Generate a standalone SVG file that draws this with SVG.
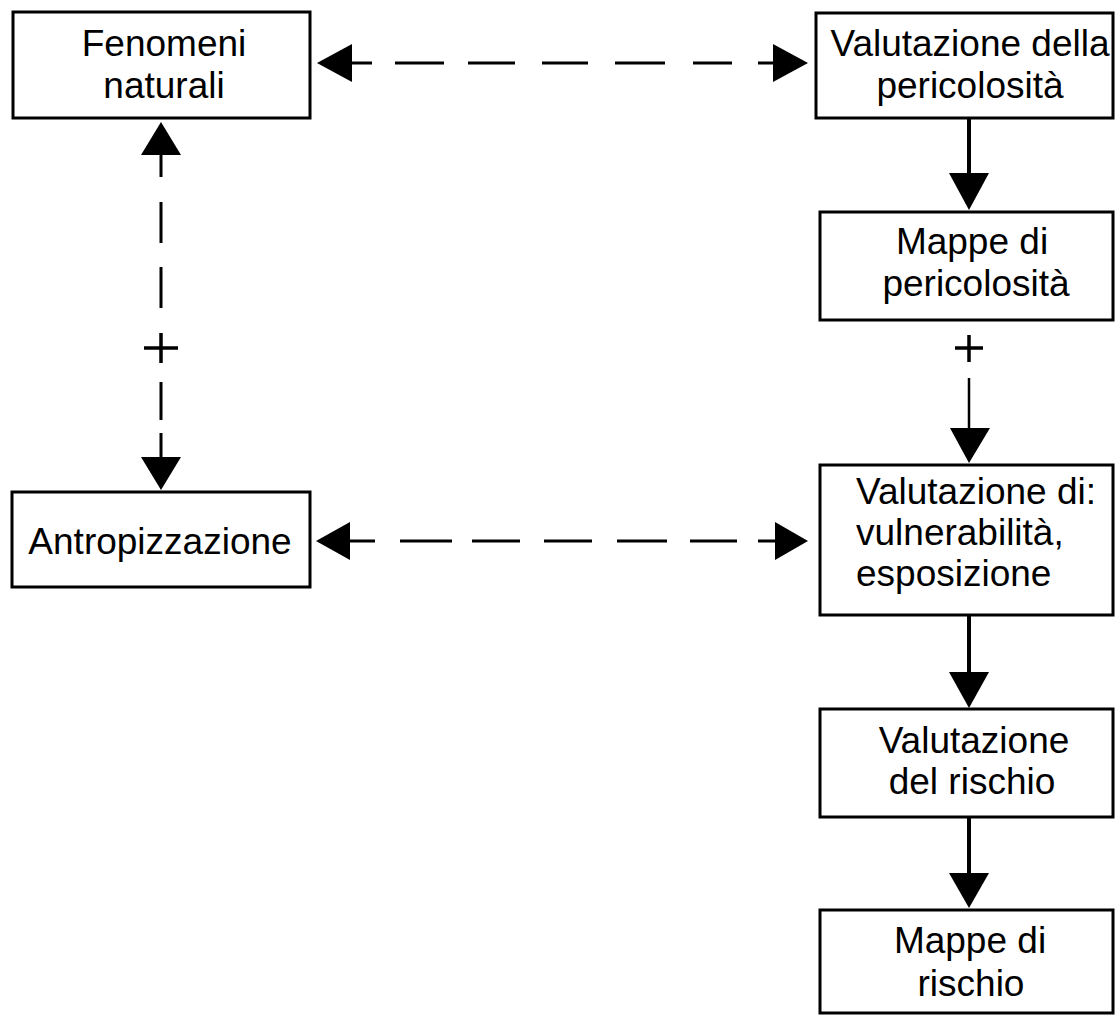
<svg xmlns="http://www.w3.org/2000/svg" width="1115" height="1015" viewBox="0 0 1115 1015">
<style>
.box{fill:#fff;stroke:#000;stroke-width:3}
.t{font-family:"Liberation Sans",Arial,sans-serif;font-size:37px;fill:#000;text-anchor:middle}
.tl{font-family:"Liberation Sans",Arial,sans-serif;font-size:37px;fill:#000;text-anchor:start}
.dash{stroke:#000;stroke-width:3;fill:none}
.plus{stroke:#000;stroke-width:3.5;fill:none}
.solid{stroke:#000;stroke-width:4;fill:none}
.thin{stroke:#000;stroke-width:2.5;fill:none}
.head{fill:#000;stroke:none}
</style>
<rect width="1115" height="1015" fill="#fff"/>
<g id="n-fenomeni">
<rect class="box" x="13" y="12" width="297" height="106"/>
<text class="t" x="164" y="56">Fenomeni</text>
<text class="t" x="164" y="98">naturali</text>
</g>
<g id="n-valpericolosita">
<rect class="box" x="816" y="13" width="297" height="105"/>
<text class="t" x="970" y="56">Valutazione della</text>
<text class="t" x="970" y="98">pericolosità</text>
</g>
<g id="n-mappeperic">
<rect class="box" x="820" y="212" width="293" height="108"/>
<text class="t" x="972" y="254">Mappe di</text>
<text class="t" x="976" y="296">pericolosità</text>
</g>
<g id="n-antropizzazione">
<rect class="box" x="12" y="492" width="298" height="95"/>
<text class="t" x="160" y="554">Antropizzazione</text>
</g>
<g id="n-valvuln">
<rect class="box" x="820" y="465" width="293" height="150"/>
<text class="tl" x="856" y="504">Valutazione di:</text>
<text class="tl" x="856" y="545">vulnerabilità,</text>
<text class="tl" x="856" y="586">esposizione</text>
</g>
<g id="n-valrischio">
<rect class="box" x="820" y="709" width="293" height="108"/>
<text class="t" x="974" y="753">Valutazione</text>
<text class="t" x="972" y="794">del rischio</text>
</g>
<g id="n-mapperischio">
<rect class="box" x="820" y="910" width="293" height="103"/>
<text class="t" x="970" y="953">Mappe di</text>
<text class="t" x="971" y="996">rischio</text>
</g>
<g id="connectors">
<path class="dash" d="M352 63H372M395 63H444M468 63H515M542 63H588M615 63H665M693 63H732M758 63H773"/>
<polygon class="head" points="317,63 352,44 352,82"/>
<polygon class="head" points="808,63 773,44 773,82"/>
<path class="dash" d="M350 541H375M400 541H452M472 541H520M544 541H592M617 541H667M690 541H737M758 541H775"/>
<polygon class="head" points="316,541 350,522 350,560"/>
<polygon class="head" points="808,541 775,522 775,560"/>
<path class="dash" d="M161 155V177M161 202V243M161 267V308M161 382V420M161 433V457"/>
<path class="plus" d="M161 333V363M144 348H178"/>
<polygon class="head" points="161,122 141,155 181,155"/>
<polygon class="head" points="161,490 141,457 181,457"/>
<path class="solid" d="M969 118V175"/>
<polygon class="head" points="969,210 949,173 989,173"/>
<path class="plus" d="M969 335V362M955 348H983"/>
<path class="thin" d="M969 378V430"/>
<polygon class="head" points="969,463 950,428 990,428"/>
<path class="solid" d="M969 615V674"/>
<polygon class="head" points="969,708 949,672 989,672"/>
<path class="solid" d="M969 817V875"/>
<polygon class="head" points="969,908 949,873 989,873"/>
</g>
</svg>
